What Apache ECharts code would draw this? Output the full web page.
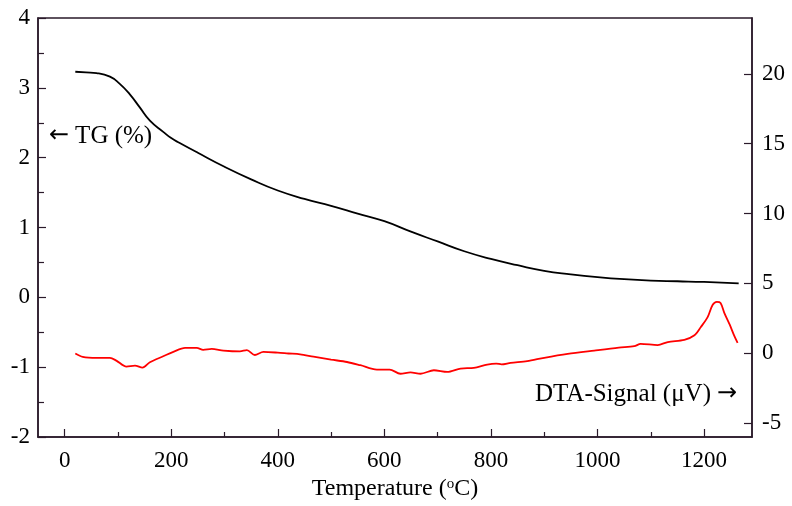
<!DOCTYPE html>
<html>
<head>
<meta charset="utf-8">
<script src="https://cdn.jsdelivr.net/npm/echarts@6/dist/echarts.min.js"></script>
<style>
  html, body { margin: 0; padding: 0; background: #fff; }
  #chart { width: 792px; height: 506px; }
</style>
</head>
<body>
<div id="chart"></div>
<script>
// TG curve (left axis, %)
const tgTemp = [20, 40, 60, 85, 103, 122, 141, 160, 185, 200, 216, 250, 300, 350, 400, 450, 500, 550, 600, 650, 700, 750, 800, 850, 900, 950, 1000, 1050, 1100, 1150, 1200, 1265];
const tgValue = [3.23, 3.22, 3.21, 3.16, 3.06, 2.91, 2.72, 2.53, 2.37, 2.28, 2.21, 2.07, 1.87, 1.69, 1.53, 1.41, 1.31, 1.20, 1.09, 0.94, 0.80, 0.66, 0.55, 0.46, 0.38, 0.33, 0.29, 0.26, 0.24, 0.23, 0.22, 0.20];

// DTA signal (right axis, µV)
const dtaTemp = [20, 34, 60, 85, 97, 116, 132, 146, 160, 185, 204, 226, 248, 260, 276, 298, 329, 342, 357, 373, 400, 420, 442, 467, 500, 530, 555, 586, 610, 630, 649, 668, 693, 718, 743, 768, 793, 810, 820, 837, 868, 900, 944, 994, 1040, 1069, 1081, 1113, 1132, 1163, 1182, 1194, 1207, 1216, 1224, 1231, 1238, 1248, 1257, 1263];
const dtaValue = [-0.02, -0.26, -0.33, -0.33, -0.53, -0.96, -0.89, -1.03, -0.65, -0.22, 0.10, 0.38, 0.38, 0.24, 0.31, 0.19, 0.13, 0.22, -0.13, 0.09, 0.04, -0.02, -0.08, -0.25, -0.46, -0.63, -0.86, -1.17, -1.17, -1.47, -1.38, -1.47, -1.22, -1.34, -1.10, -1.05, -0.81, -0.74, -0.80, -0.69, -0.57, -0.33, -0.05, 0.19, 0.40, 0.50, 0.67, 0.58, 0.80, 0.95, 1.28, 1.87, 2.60, 3.45, 3.67, 3.60, 2.89, 2.06, 1.22, 0.74];

// tick labels
const xMajorTicks = [0, 200, 400, 600, 800, 1000, 1200];
const xMinorTicks = [100, 300, 500, 700, 900, 1100];
const rightTicks = [-5, 0, 5, 10, 15, 20];

const AXIS_COLOR = '#2a1a2a';
const FONT = 'Liberation Serif';
const LABEL_STYLE = { color: '#000', fontFamily: FONT, fontSize: 23 };
const ANNOT_RICH = {
    t: { fontFamily: FONT, fontSize: 25, color: '#000' },
    arr: { fontFamily: 'DejaVu Sans', fontSize: 24, color: '#000' },
    sp: { fontFamily: FONT, fontSize: 25, width: 6 }
};
const GRID_BOX = { left: 38, right: 40, top: 18, bottom: 69 };

let chart = echarts.init(document.getElementById('chart'));

let option = {
    animation: false,
    backgroundColor: '#fff',
    grid: [
        Object.assign({
            show: true,
            borderColor: AXIS_COLOR,
            borderWidth: 1.5,
            backgroundColor: 'transparent'
        }, GRID_BOX),
        // second grid, same box: only carries the short ticks at odd hundreds
        Object.assign({ show: false }, GRID_BOX)
    ],
    xAxis: [
        {
            type: 'value',
            gridIndex: 0,
            min: -50,
            max: 1290,
            position: 'bottom',
            axisLine: { show: true, onZero: false, lineStyle: { color: AXIS_COLOR, width: 1.5 } },
            axisTick: { show: true, inside: true, length: 8, customValues: xMajorTicks, lineStyle: { color: AXIS_COLOR, width: 1.2 } },
            axisLabel: Object.assign({ customValues: xMajorTicks, margin: 12, formatter: v => String(v) }, LABEL_STYLE),
            splitLine: { show: false },
            name: '{a|Temperature (}{s|o}{a|C)}',
            nameLocation: 'middle',
            nameGap: 39,
            nameTextStyle: {
                rich: {
                    a: { fontFamily: FONT, fontSize: 24, color: '#000' },
                    s: { fontFamily: FONT, fontSize: 15, color: '#000', verticalAlign: 'top', padding: [0, 0, 9, 0] }
                }
            }
        },
        {
            type: 'value',
            gridIndex: 1,
            min: -50,
            max: 1290,
            position: 'bottom',
            axisLine: { show: false, onZero: false },
            axisTick: { show: true, inside: true, length: 5, customValues: xMinorTicks, lineStyle: { color: AXIS_COLOR, width: 1.2 } },
            axisLabel: { show: false },
            splitLine: { show: false }
        }
    ],
    yAxis: [
        {
            type: 'value',
            gridIndex: 0,
            min: -2,
            max: 4,
            interval: 1,
            position: 'left',
            axisLine: { show: true, onZero: false, lineStyle: { color: AXIS_COLOR, width: 1.5 } },
            axisTick: { show: true, inside: true, length: 8, lineStyle: { color: AXIS_COLOR, width: 1.2 } },
            minorTick: { show: true, splitNumber: 2, length: 6, lineStyle: { color: AXIS_COLOR, width: 1.2 } },
            axisLabel: Object.assign({ margin: 8 }, LABEL_STYLE),
            splitLine: { show: false },
            minorSplitLine: { show: false }
        },
        {
            type: 'value',
            gridIndex: 0,
            min: -6,
            max: 24,
            position: 'right',
            axisLine: { show: true, onZero: false, lineStyle: { color: AXIS_COLOR, width: 1.5 } },
            axisTick: { show: true, inside: true, length: 8, customValues: rightTicks, lineStyle: { color: AXIS_COLOR, width: 1.2 } },
            axisLabel: Object.assign({ customValues: rightTicks, margin: 10 }, LABEL_STYLE),
            splitLine: { show: false }
        },
        {
            type: 'value',
            gridIndex: 1,
            min: 0,
            max: 1,
            show: false
        }
    ],
    graphic: [
        {
            type: 'text', x: 49, y: 136,
            style: { text: '{arr|\u2190}{sp|}{t|TG (%)}', rich: ANNOT_RICH, verticalAlign: 'middle' }
        },
        {
            type: 'text', x: 535, y: 394,
            style: { text: '{t|DTA-Signal (\u03bcV)}{sp|}{arr|\u2192}', rich: ANNOT_RICH, verticalAlign: 'middle' }
        }
    ],
    series: [
        {
            name: 'TG',
            type: 'line',
            xAxisIndex: 0,
            yAxisIndex: 0,
            data: tgTemp.map((t, i) => [t, tgValue[i]]),
            showSymbol: false,
            smooth: true,
            lineStyle: { color: '#000', width: 1.8 }
        },
        {
            name: 'DTA',
            type: 'line',
            xAxisIndex: 0,
            yAxisIndex: 1,
            data: dtaTemp.map((t, i) => [t, dtaValue[i]]),
            showSymbol: false,
            smooth: 0.3,
            lineStyle: { color: '#ff0000', width: 1.8 }
        }
    ]
};
chart.setOption(option);
</script>
</body>
</html>
